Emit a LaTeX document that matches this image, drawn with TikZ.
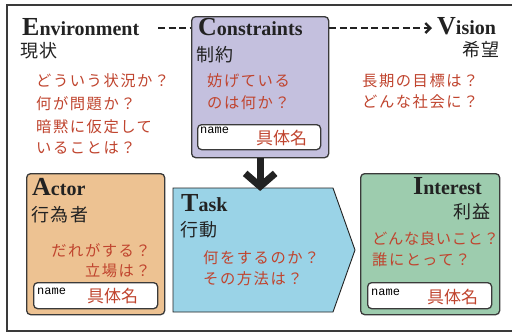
\documentclass[tikz,border=0pt]{standalone}
\usepackage{fontspec}
\setmainfont{Liberation Serif}
\newfontfamily\jpfont[LetterSpace=8]{Noto Sans CJK JP}
\newfontfamily\jpqfont[LetterSpace=10]{Noto Sans CJK JP}
\newfontfamily\jpqtightfont[LetterSpace=4]{Noto Sans CJK JP}
\newfontfamily\jpnamefont{Noto Sans CJK JP}
\newfontfamily\nmfam{Liberation Mono}
\usetikzlibrary{arrows.meta}
\definecolor{ink}{HTML}{222222}
\definecolor{qred}{HTML}{C0442E}
\definecolor{lav}{HTML}{C4C0DE}
\definecolor{tan}{HTML}{EDC292}
\definecolor{sky}{HTML}{9AD3E7}
\definecolor{mint}{HTML}{9DCCAE}
\definecolor{edge}{HTML}{3A3A3A}
\newcommand\HeadWord[2]{{\fontsize{26}{26}\selectfont #1}{\fontsize{20}{20}\selectfont #2}}
\tikzset{
  bigbox/.style={draw=edge, line width=1.3pt, rounded corners=4pt, anchor=north west, inner sep=0pt},
  namebox/.style={draw=edge, line width=1.3pt, rounded corners=4pt, fill=white, anchor=north west, inner sep=0pt},
  head/.style={font=\bfseries, text=ink, anchor=base west, inner sep=0pt},
  jpblack/.style={font={\fontsize{18}{18}\selectfont\jpfont}, text=ink, anchor=base west, inner sep=0pt},
  qtext/.style={font={\fontsize{15.3}{15.3}\selectfont\jpqfont}, text=qred, anchor=base west, inner sep=0pt},
  qtight/.style={qtext, font={\fontsize{15.3}{15.3}\selectfont\jpqtightfont}},
  nmlabel/.style={font={\fontsize{12}{12}\selectfont\nmfam}, text=black, anchor=base west, inner sep=0pt},
  concrete/.style={font={\fontsize{17}{17}\selectfont\jpnamefont}, text=qred, anchor=base west, inner sep=0pt},
  dashline/.style={draw=ink, line width=2.4pt, dash pattern=on 7pt off 3.5pt},
}
\begin{document}
\begin{tikzpicture}[x=1pt, y=-1pt]
\useasboundingbox (0,0) rectangle (512,333);
\fill[white] (0,0) rectangle (512,333);
% outer frame (right side outside picture)
\draw[edge, line width=1.6pt] (512,5) -- (7,5) -- (7,331) -- (512,331);

% boxes
\node[bigbox, fill=lav, minimum width=137pt, minimum height=141pt] (cons) at (191,16) {};
\node[bigbox, fill=tan, minimum width=138pt, minimum height=141pt] (actor) at (26,173) {};
\node[bigbox, fill=mint, minimum width=139pt, minimum height=141pt] (inter) at (360,173) {};
\fill[sky, draw=ink, line width=0.9pt] (173,188) -- (333,188) -- (355,250) -- (333,312) -- (173,312) -- cycle;
\coordinate (tasktop) at (258,188);

% name boxes
\node[namebox, minimum width=123pt, minimum height=25pt] (consname) at (197,124) {};
\node[namebox, minimum width=124pt, minimum height=26pt] (actorname) at (33,282) {};
\node[namebox, minimum width=124pt, minimum height=26pt] (intername) at (367,282) {};

% headings
\node[head] (envh) at (22,35) {\HeadWord{E}{nvironment}};
\node[head] (consh) at (198,35) {\HeadWord{C}{onstraints}};
\node[head] (vish) at (437,34) {\HeadWord{V}{ision}};
\node[head] (acth) at (32,195) {\HeadWord{A}{ctor}};
\node[head] (taskh) at (181,211) {\HeadWord{T}{ask}};
\node[head] (inth) at (413,194) {\HeadWord{I}{nterest}};

\node[jpblack] (envj) at (20,57) {現状};
\node[jpblack] (consj) at (196,61) {制約};
\node[jpblack, anchor=base east] (visj) at (500,56) {希望};
\node[jpblack] (actj) at (31,221) {行為者};
\node[jpblack] (taskj) at (180,236) {行動};
\node[jpblack, anchor=base east] (intj) at (491,218) {利益};

% questions
\node[qtext] (e1) at (36,86) {どういう状況か？};
\node[qtext] (e2) at (36,109) {何が問題か？};
\node[qtext] (e3) at (36,132) {暗黙に仮定して};
\node[qtext] (e4) at (36,153) {いることは？};
\node[qtext] (c1) at (207,86) {妨げている};
\node[qtext] (c2) at (207,108) {のは何か？};
\node[qtext] (v1) at (362,86) {長期の目標は？};
\node[qtext] (v2) at (362,107) {どんな社会に？};
\node[qtext, anchor=base east] (a1) at (151,256) {だれがする？};
\node[qtext, anchor=base east] (a2) at (151,276) {立場は？};
\node[qtext] (t1) at (203,263) {何をするのか？};
\node[qtext] (t2) at (203,284) {その方法は？};
\node[qtight] (i1) at (372,244) {どんな良いこと？};
\node[qtext] (i2) at (372,265) {誰にとって？};

% name labels
\node[nmlabel] (cn) at (200,133) {name};
\node[nmlabel] (an) at (37,294) {name};
\node[nmlabel] (in) at (371,295) {name};
\node[concrete] (cc) at (256,144) {具体名};
\node[concrete] (ac) at (87,302) {具体名};
\node[concrete] (ic) at (427,303) {具体名};

% connectors
\coordinate (d1) at (158,28);
\draw[dashline] (d1) -- (cons.west |- d1);
\draw[dashline, -{Straight Barb[length=5pt, width=10pt]}] (cons.east |- d1) -- ([xshift=-5pt]vish.west |- d1);
\draw[ink, line width=7pt, -{Straight Barb[length=13pt, width=30pt]}] (cons.south) -- ([yshift=-3pt]cons.south |- tasktop);
\end{tikzpicture}
\end{document}
